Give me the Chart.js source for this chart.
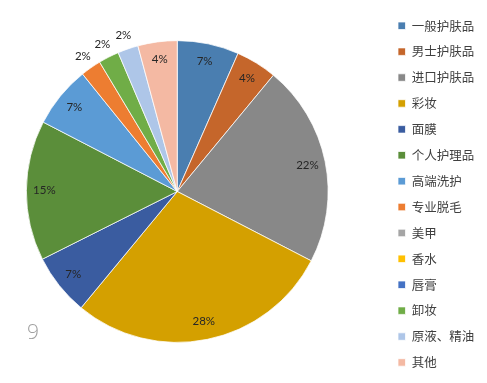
<!DOCTYPE html>
<html>
<head>
<meta charset="utf-8">
<script src="https://cdn.jsdelivr.net/npm/chart.js@4/dist/chart.umd.min.js"></script>
<style>
  html, body { margin: 0; padding: 0; background: #ffffff; }
  #wrap { position: relative; width: 487px; height: 383px; overflow: hidden; }
  #c { position: absolute; left: 0; top: 0; }
  #pageNo { position: absolute; left: 27px; top: 319px; font-family: "Open Sans", sans-serif; font-weight: 300; font-size: 21px; line-height: 24px; color: #a0a0a0; }
</style>
</head>
<body>
<div id="wrap">
  <canvas id="c" width="487" height="383"></canvas>
  <div id="pageNo">9</div>
</div>
<script>
// ---- data (percent shares) ----
const categories = ['一般护肤品', '男士护肤品', '进口护肤品', '彩妆', '面膜', '个人护理品', '高端洗护', '专业脱毛', '美甲', '香水', '唇膏', '卸妆', '原液、精油', '其他'];
const shares = [6.6, 4.4, 21.6, 28.4, 6.6, 15.0, 6.6, 2.2, 0, 0, 0, 2.2, 2.2, 4.2];
const sliceColors = ['#4a7eb0', '#c5662b', '#888888', '#d4a000', '#3a5ca0', '#5b8e3a', '#5b9bd5', '#ed7d31', '#a5a5a5', '#ffc000', '#4472c4', '#70ad47', '#aec6e8', '#f4b9a3'];

const pctLabels = {
  id: 'pctLabels',
  afterDatasetsDraw(chart) {
    const ctx = chart.ctx;
    const meta = chart.getDatasetMeta(0);
    const total = shares.reduce((a, b) => a + b, 0);
    ctx.save();
    ctx.font = '11.5px Lato, "Open Sans", sans-serif';
    ctx.fillStyle = '#262626';
    ctx.textAlign = 'center';
    ctx.textBaseline = 'middle';
    meta.data.forEach((arc, i) => {
      const v = shares[i];
      if (!v) return;
      const p = arc.getProps(['x', 'y', 'startAngle', 'endAngle', 'outerRadius'], true);
      const mid = (p.startAngle + p.endAngle) / 2;
      const r = (v / total) < 0.03 ? p.outerRadius + 14 : p.outerRadius - 18;
      const txt = Math.round(v / total * 100) + '%';
      ctx.fillText(txt, p.x + Math.cos(mid) * r, p.y + Math.sin(mid) * r);
    });
    ctx.restore();
  }
};

new Chart(document.getElementById('c'), {
  type: 'pie',
  data: {
    labels: categories,
    datasets: [{
      data: shares,
      backgroundColor: sliceColors,
      borderColor: '#ffffff',
      borderWidth: 0.75
    }]
  },
  options: {
    responsive: false,
    animation: false,
    devicePixelRatio: 1,
    layout: { padding: { left: 26, right: 2.75, top: 0, bottom: 0 } },
    plugins: {
      tooltip: { enabled: false },
      title: {
        display: true,
        text: ' ',
        position: 'right',
        weight: 500,
        font: { size: 1 },
        padding: { top: 27.45, bottom: 27.45 }
      },
      legend: {
        position: 'right',
        weight: 1000,
        title: {
          display: true,
          text: '',
          font: { size: 1 },
          padding: { top: 2, bottom: 2 }
        },
        labels: {
          font: { family: '"Noto Sans CJK SC", sans-serif', size: 12.5 },
          color: '#404040',
          boxWidth: 7.5,
          boxHeight: 7.5,
          padding: 13.4
        }
      }
    }
  },
  plugins: [pctLabels]
});
</script>
</body>
</html>
